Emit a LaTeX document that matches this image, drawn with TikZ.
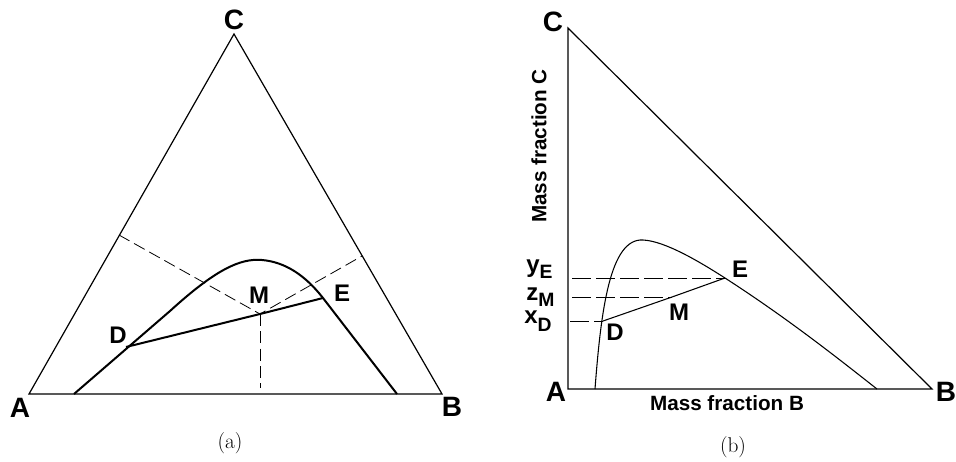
\documentclass[tikz,border=0pt]{standalone}
\usepackage{fontspec}
\setsansfont{Liberation Sans}
\begin{document}
\begin{tikzpicture}[x=0.75pt,y=-0.75pt,
  side/.style={line width=0.9pt},
  thick curve/.style={line width=1.5pt},
  thin curve/.style={line width=0.8pt},
  ldash/.style={line width=0.6pt,dash pattern=on 9pt off 4pt},
  rdash/.style={line width=0.7pt,dash pattern=on 14pt off 4pt},
  vlbl/.style={font=\sffamily\bfseries\fontsize{21}{21}\selectfont,inner sep=0pt},
  plbl/.style={font=\sffamily\bfseries\fontsize{18}{18}\selectfont,inner sep=0pt},
  axlbl/.style={font=\sffamily\bfseries\fontsize{15.5}{15.5}\selectfont,inner sep=0pt},
  captxt/.style={font=\fontsize{16}{16}\selectfont,inner sep=0pt}]
\useasboundingbox (0,0) rectangle (956,461);
% ---------- (a) ----------
\coordinate (aA) at (29,394);
\coordinate (aB) at (442,394);
\coordinate (aC) at (234,34);
\coordinate (aD) at (126,347);
\coordinate (aE) at (323,298);
\coordinate (aM) at (260,314);
\coordinate (aL) at (119,235);
\coordinate (aR) at (362,256);
\coordinate (aF) at (260,388);
\coordinate (aS) at (74,394);
\coordinate (aT) at (397,394);
\draw[side] (aA) -- (aB) -- (aC) -- cycle;
\draw[thick curve] (aS) -- (170,311) .. controls (215,270) and (240,258) .. (262,260)
  .. controls (285,262) and (305,275) .. (aE) -- (aT);
\draw[thick curve] (aD) -- (aM) -- (aE);
\draw[ldash] (aL) -- (aM) -- (aR);
\draw[ldash] (aM) -- (aF);
\node[vlbl] (lA) at (20,408) {A};
\node[vlbl] (lB) at (452,407) {B};
\node[vlbl] (lC) at (234,20) {C};
\node[plbl] (lD) at (118,335) {D};
\node[plbl] (lE) at (342,293) {E};
\node[plbl] (lM) at (259,295) {M};
\node[captxt] (ca) at (230,443) {(a)};
% ---------- (b) ----------
\coordinate (bA) at (568,389);
\coordinate (bB) at (932,389);
\coordinate (bC) at (568,28);
\coordinate (bD) at (603,321);
\coordinate (bE) at (725,278);
\coordinate (bM) at (672,297);
\coordinate (bS) at (595,389);
\coordinate (bT) at (877,389);
\coordinate (yE0) at (572,278);
\coordinate (zM0) at (572,297);
\coordinate (xD0) at (570,321);
\draw[side] (bC) -- (bA) -- (bB) -- cycle;
\draw[thin curve] (bS) .. controls (601,310) and (610,238) .. (643,240)
  .. controls (665,241) and (700,262) .. (bE)
  .. controls (790,320) and (840,360) .. (bT);
\draw[thin curve] (bD) -- (bM) -- (bE);
\draw[rdash] (yE0) -- (bE);
\draw[rdash] (zM0) -- (bM);
\draw[rdash] (xD0) -- (bD);
\node[vlbl] (rA) at (556,392) {A};
\node[vlbl] (rB) at (946,392) {B};
\node[vlbl] (rC) at (553,22) {C};
\node[plbl] (rD) at (615,332) {D};
\node[plbl] (rE) at (740,269) {E};
\node[plbl] (rM) at (679,312) {M};
\node[plbl,anchor=base west] (ryE) at (526,272) {y\raisebox{-4.5pt}{\fontsize{14.5}{14.5}\selectfont E}};
\node[plbl,anchor=base west] (rzM) at (526,300) {z\raisebox{-5pt}{\fontsize{14.5}{14.5}\selectfont M}};
\node[plbl,anchor=base west] (rxD) at (524,323) {x\raisebox{-6pt}{\fontsize{14.5}{14.5}\selectfont D}};
\node[axlbl,rotate=90] (mfC) at (539,146) {Mass fraction C};
\node[axlbl] (mfB) at (727,403) {Mass fraction B};
\node[captxt] (cb) at (733,447) {(b)};
\end{tikzpicture}
\end{document}
